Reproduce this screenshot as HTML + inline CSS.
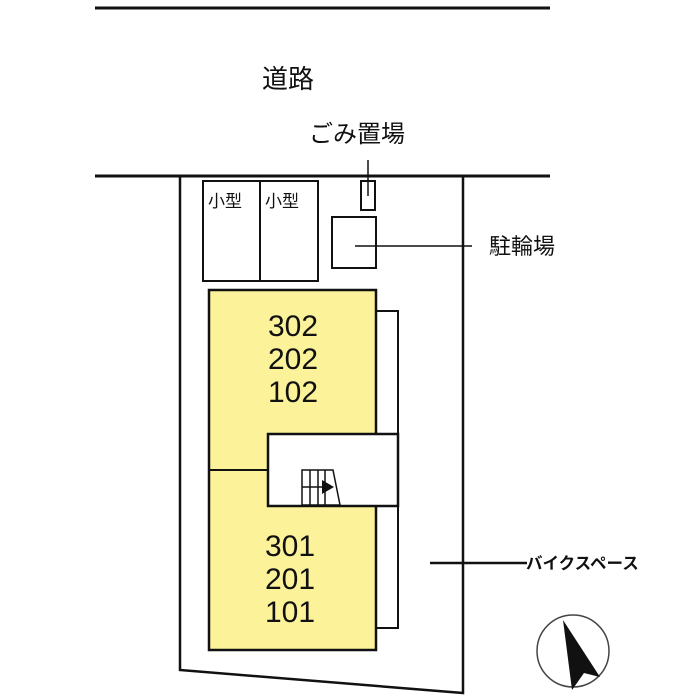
<!DOCTYPE html>
<html><head><meta charset="utf-8"><style>
body{margin:0;background:#fff}
svg{display:block}
text{font-family:"Liberation Sans","Noto Sans CJK JP",sans-serif;fill:#111}
</style></head><body>
<svg width="700" height="700" viewBox="0 0 700 700">
<g stroke="#111" stroke-width="3" fill="none">
<line x1="95" y1="8" x2="550" y2="8"/>
<line x1="95" y1="176" x2="550" y2="176"/>
<polyline points="180,176 180,670 463,693 463,176" stroke-width="2.5"/>
</g>
<g stroke="#111" stroke-width="2" fill="#fff">
<rect x="203" y="181" width="115" height="100"/>
<line x1="260" y1="181" x2="260" y2="281"/>
<rect x="361" y="181" width="14" height="29"/>
<rect x="332" y="217" width="44" height="51"/>
<rect x="376" y="311" width="22" height="317"/>
<rect x="209" y="290" width="167" height="360" fill="#fbf29a" stroke-width="2.5"/>
<line x1="209" y1="470" x2="268" y2="470"/>
<rect x="268" y="434" width="130" height="72" stroke-width="2.5"/>
</g>
<g stroke="#111" stroke-width="1.5" fill="none">
<line x1="368" y1="160" x2="368" y2="196"/>
<line x1="355" y1="246" x2="472" y2="246"/>
<polygon points="302,470 333,470 340,505 302,505"/>
<line x1="310" y1="470" x2="310" y2="505"/>
<line x1="318" y1="470" x2="318" y2="505"/>
<line x1="325" y1="470" x2="325" y2="505"/>
<line x1="302" y1="487" x2="330" y2="487"/>
</g>
<polygon points="322,480 334,487 322,494" fill="#111"/>
<line x1="430" y1="563" x2="527" y2="563" stroke="#111" stroke-width="2.5"/>
<circle cx="573" cy="651" r="36" fill="none" stroke="#444" stroke-width="1.5"/>
<polygon points="563,620 600,677 584,673 572,690" fill="#111"/>
<text x="262" y="88" font-size="26">道路</text>
<text x="309" y="142" font-size="24">ごみ置場</text>
<text x="489" y="254" font-size="22">駐輪場</text>
<text x="208" y="207" font-size="17">小型</text>
<text x="265" y="207" font-size="17">小型</text>
<text x="526" y="569" font-size="16.5" font-weight="bold">バイクスペース</text>
<g font-size="30" text-anchor="middle">
<text x="293" y="336">302</text><text x="293" y="369">202</text><text x="293" y="402">102</text>
<text x="290" y="556">301</text><text x="290" y="589">201</text><text x="290" y="622">101</text>
</g>
</svg>
</body></html>
